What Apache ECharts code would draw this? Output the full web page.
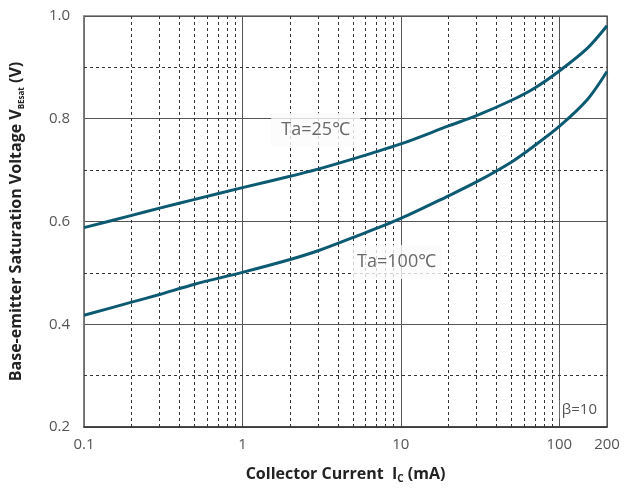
<!DOCTYPE html>
<html><head><meta charset="utf-8">
<script src="https://cdn.jsdelivr.net/npm/echarts@6/dist/echarts.min.js"></script>
<style>html,body{margin:0;padding:0;background:#fff}#c{width:625px;height:489px}</style>
</head><body><div id="c"></div>
<script>
// Collector current (mA) and V_BEsat (V)
const current25 = [0.1, 0.2, 0.3, 0.5, 1, 2, 3, 5, 10, 20, 30, 50, 70, 100, 150, 200];
const vbe25     = [0.588, 0.612, 0.626, 0.643, 0.666, 0.688, 0.702, 0.722, 0.751, 0.786, 0.806, 0.836, 0.860, 0.893, 0.937, 0.981];
const current100 = [0.1, 0.2, 0.3, 0.5, 1, 2, 3, 5, 10, 20, 30, 50, 70, 100, 150, 200];
const vbe100     = [0.4175, 0.443, 0.458, 0.478, 0.501, 0.526, 0.543, 0.569, 0.606, 0.650, 0.677, 0.716, 0.748, 0.785, 0.837, 0.892];
const xTickLabels = [0.1, 1, 10, 100, 200];
const xMinorGrid = [0.2,0.3,0.4,0.5,0.6,0.7,0.8,0.9,2,3,4,5,6,7,8,9,20,30,40,50,60,70,80,90];
const yMinorGrid = [0.3, 0.5, 0.7, 0.9];
const labelTexts = ['Ta=25℃', 'Ta=100℃'];
const labelX = [2.9, 9.4];
const labelY = [0.778, 0.521];
const betaNote = 'β=10';

const chart = echarts.init(document.getElementById('c'), null, {renderer: 'canvas'});
const curveColor = '#0c5a72';
const font = '"Open Sans", "Noto Sans", sans-serif';
const dash = {type: [3, 3], color: '#333', width: 1};

const toPairs = (xs, ys) => xs.map((x, i) => [x, ys[i]]);

chart.setOption({
  animation: false,
  grid: {left: 78, right: 18, top: 16, bottom: 62, show: true, borderColor: '#777', borderWidth: 1.5, backgroundColor: '#fff'},
  xAxis: {
    type: 'log', logBase: 10, min: 0.1, max: 200,
    name: '{b|Collector Current  I}{s|C}{b| (mA)}',
    nameLocation: 'middle', nameGap: 37,
    nameTextStyle: {rich: {
      b: {fontFamily: font, fontWeight: 'bold', fontSize: 16, color: '#222'},
      s: {fontFamily: font, fontWeight: 'bold', fontSize: 10, color: '#222', padding: [10, 0, 0, 0]}
    }},
    axisLine: {show: true, lineStyle: {color: '#333', width: 1.5}},
    axisTick: {show: false},
    axisLabel: {customValues: xTickLabels, fontFamily: font, fontSize: 15, color: '#555', margin: 10,
      formatter: v => String(v)},
    splitLine: {show: true, lineStyle: {color: '#555', width: 1}}
  },
  yAxis: {
    type: 'value', min: 0.2, max: 1.0, interval: 0.2,
    name: '{b|Base-emitter Saturation Voltage V}{s|BEsat}{b| (V)}',
    nameLocation: 'middle', nameGap: 58, nameRotate: 90,
    nameTextStyle: {rich: {
      b: {fontFamily: font, fontWeight: 'bold', fontSize: 16, color: '#222'},
      s: {fontFamily: font, fontWeight: 'bold', fontSize: 8, color: '#222', padding: [12, 0, 0, 0]}
    }},
    axisLine: {show: true, lineStyle: {color: '#777', width: 1.5}},
    axisTick: {show: false},
    axisLabel: {fontFamily: font, fontSize: 15, color: '#555', margin: 14, formatter: v => v.toFixed(1)},
    splitLine: {show: true, lineStyle: {color: '#555', width: 1}}
  },
  series: [
    {
      type: 'line', data: [], silent: true, z: 1,
      markLine: {
        z: 1, silent: true, symbol: 'none', animation: false,
        label: {show: false}, lineStyle: dash,
        data: xMinorGrid.map(v => ({xAxis: v})).concat(yMinorGrid.map(v => ({yAxis: v})))
      }
    },
    {
      type: 'scatter', z: 3, silent: true,
      symbol: 'rect', symbolSize: [89, 34],
      itemStyle: {color: '#fbfbfb'},
      data: labelTexts.map((t, i) => ({value: [labelX[i], labelY[i]], name: t})),
      label: {show: true, position: 'inside', formatter: p => p.name,
        fontFamily: font, fontSize: 18, color: '#444'}
    },
    {
      type: 'line', data: toPairs(current25, vbe25), smooth: 0.3, symbol: 'none', z: 5,
      lineStyle: {color: curveColor, width: 3}
    },
    {
      type: 'line', data: toPairs(current100, vbe100), smooth: 0.3, symbol: 'none', z: 5,
      lineStyle: {color: curveColor, width: 3}
    }
  ],
  graphic: [{
    type: 'text', right: 26, bottom: 70, z: 10,
    style: {text: betaNote, font: '15px ' + font, fill: '#555', backgroundColor: '#fff', padding: [2, 2]}
  }]
});
</script></body></html>
